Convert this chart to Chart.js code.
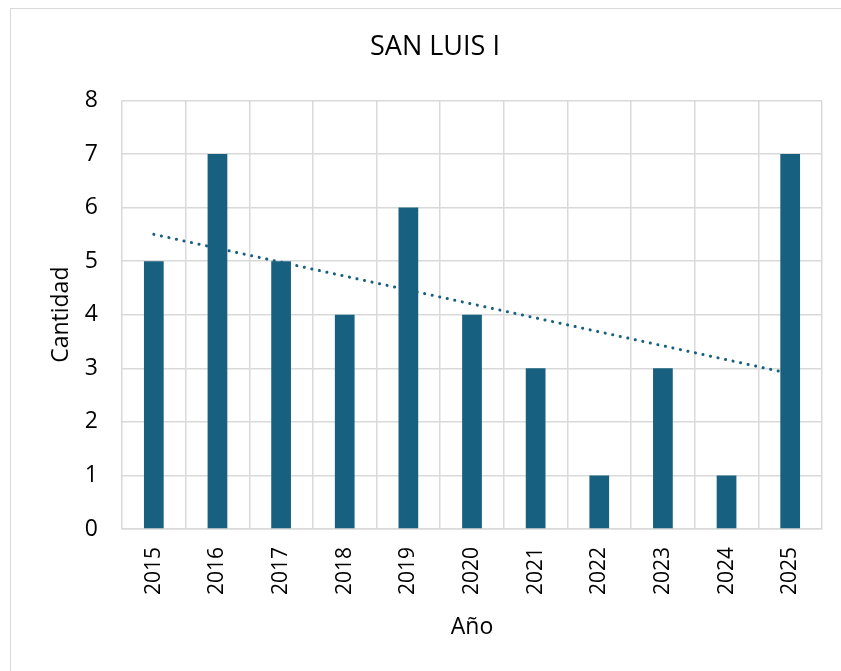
<!DOCTYPE html>
<html>
<head>
<meta charset="utf-8">
<script src="https://cdn.jsdelivr.net/npm/chart.js@4"></script>
<style>
  body { margin: 0; background: #fff; }
  .frame {
    position: absolute; left: 10px; top: 8px; width: 840px; height: 670px;
    border-left: 1.5px solid #d9d9d9; border-top: 1.5px solid #d9d9d9;
  }
  .chart-box { position: absolute; left: 11px; top: 9px; width: 830px; height: 662px; }
</style>
</head>
<body>
<div class="frame"></div>
<div class="chart-box"><canvas id="mainChart"></canvas></div>
<script>
const years = ["2015", "2016", "2017", "2018", "2019", "2020", "2021", "2022", "2023", "2024", "2025"];
const cantidad = [5, 7, 5, 4, 6, 4, 3, 1, 3, 1, 7];
// dotted trend line (start and end points)
const trend = [5.5, null, null, null, null, null, null, null, null, null, 2.9];

const barColor = "#17607f";
const gridColor = "#d9d9d9";
const font = "'Open Sans', 'Noto Sans', sans-serif";

const ctx = document.getElementById("mainChart").getContext("2d");
new Chart(ctx, {
  type: "bar",
  data: {
    labels: years,
    datasets: [
      {
        type: "bar",
        label: "Cantidad",
        data: cantidad,
        backgroundColor: barColor,
        barPercentage: 0.31,
        categoryPercentage: 1,
        order: 1
      },
      {
        type: "line",
        label: "Tendencia",
        data: trend,
        spanGaps: true,
        borderColor: barColor,
        borderWidth: 3,
        borderDash: [0.1, 7.6],
        borderCapStyle: "round",
        pointRadius: 0,
        fill: false,
        order: 2
      }
    ]
  },
  options: {
    responsive: true,
    maintainAspectRatio: false,
    animation: false,
    layout: { padding: { left: 37, right: 19, top: 6, bottom: 30 } },
    plugins: {
      legend: { display: false },
      tooltip: { enabled: false },
      title: {
        display: true,
        text: "SAN LUIS I",
        color: "#000",
        font: { family: font, size: 27, weight: "normal" },
        padding: { top: 16, bottom: 37 }
      }
    },
    scales: {
      x: {
        afterFit: (scale) => { scale.height = 112; },
        grid: { color: gridColor, lineWidth: 1.5, offset: true, drawTicks: false },
        border: { color: gridColor, width: 1.5 },
        ticks: {
          color: "#000",
          font: { family: font, size: 21 },
          minRotation: 90,
          maxRotation: 90,
          padding: 18
        },
        title: {
          display: true,
          text: "Año",
          color: "#000",
          font: { family: font, size: 23 },
          padding: { top: 0, bottom: 0 }
        }
      },
      y: {
        afterFit: (scale) => { scale.width = 74; },
        min: 0,
        max: 8,
        grid: { color: gridColor, lineWidth: 1.5, drawTicks: false },
        border: { display: false },
        ticks: {
          stepSize: 1,
          color: "#000",
          font: { family: font, size: 23 },
          padding: 24
        },
        title: {
          display: true,
          text: "Cantidad",
          color: "#000",
          font: { family: font, size: 23 },
          padding: { top: 0, bottom: 0 }
        }
      }
    }
  }
});
</script>
</body>
</html>
